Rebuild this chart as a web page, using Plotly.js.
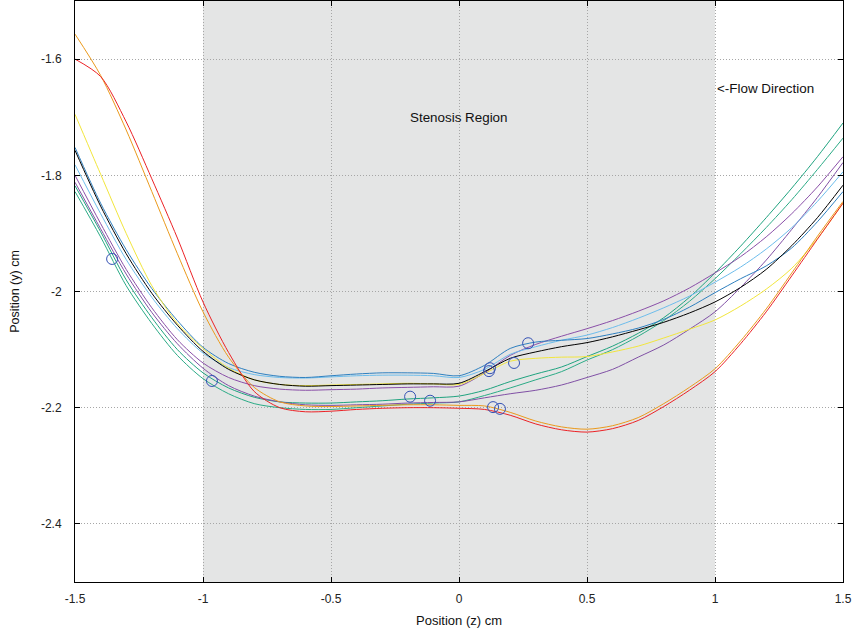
<!DOCTYPE html>
<html>
<head>
<meta charset="utf-8">
<script src="https://cdn.plot.ly/plotly-3.0.1.min.js"></script>
<style>
  html, body { margin: 0; padding: 0; background: #fff; }
  #chart { width: 856px; height: 633px; }
</style>
</head>
<body>
<div id="chart"></div>
<script>
// Axial positions (cm) at which each wall profile is sampled
const zPos = [-1.5, -1.4, -1.3, -1.2, -1.1, -1.0, -0.9, -0.8, -0.7, -0.6, -0.5,
              -0.4, -0.3, -0.2, -0.1, 0.0, 0.1, 0.2, 0.3, 0.4, 0.5,
              0.6, 0.7, 0.8, 0.9, 1.0, 1.1, 1.2, 1.3, 1.4, 1.5];

// Wall position (y, cm) for each profile
const yGreen1 = [-1.818, -1.897, -1.980, -2.045, -2.100, -2.140, -2.166, -2.182, -2.190, -2.192, -2.192,
                 -2.190, -2.188, -2.185, -2.183, -2.180, -2.170, -2.155, -2.142, -2.130, -2.112,
                 -2.094, -2.072, -2.045, -2.010, -1.968, -1.922, -1.873, -1.822, -1.768, -1.710];
const yGreen2 = [-1.828, -1.906, -1.990, -2.055, -2.110, -2.150, -2.176, -2.193, -2.200, -2.203, -2.203,
                 -2.200, -2.197, -2.194, -2.192, -2.190, -2.179, -2.166, -2.152, -2.138, -2.118,
                 -2.100, -2.077, -2.050, -2.017, -1.978, -1.935, -1.890, -1.842, -1.790, -1.736];
const yPurple1 = [-1.800, -1.883, -1.962, -2.028, -2.083, -2.123, -2.148, -2.162, -2.168, -2.170, -2.169,
                  -2.168, -2.166, -2.165, -2.164, -2.163, -2.140, -2.110, -2.091, -2.077, -2.064,
                  -2.050, -2.034, -2.016, -1.994, -1.968, -1.940, -1.906, -1.866, -1.820, -1.768];
const yPurple2 = [-1.812, -1.892, -1.970, -2.036, -2.090, -2.132, -2.162, -2.180, -2.190, -2.195, -2.196,
                  -2.195, -2.194, -2.192, -2.191, -2.190, -2.183, -2.176, -2.170, -2.161, -2.148,
                  -2.134, -2.113, -2.092, -2.065, -2.035, -1.993, -1.946, -1.893, -1.838, -1.778];
const yLightBlue = [-1.782, -1.866, -1.945, -2.010, -2.064, -2.106, -2.131, -2.143, -2.148, -2.149, -2.147,
                    -2.145, -2.144, -2.144, -2.145, -2.148, -2.134, -2.108, -2.095, -2.084, -2.075,
                    -2.062, -2.046, -2.028, -2.008, -1.984, -1.958, -1.927, -1.890, -1.845, -1.794];
const yBlue = [-1.752, -1.848, -1.928, -1.995, -2.050, -2.096, -2.124, -2.139, -2.146, -2.148, -2.145,
               -2.142, -2.140, -2.140, -2.141, -2.145, -2.127, -2.098, -2.087, -2.084, -2.081,
               -2.073, -2.063, -2.048, -2.027, -2.002, -1.978, -1.956, -1.925, -1.880, -1.828];
const yYellow = [-1.695, -1.798, -1.900, -1.990, -2.055, -2.098, -2.132, -2.152, -2.160, -2.162, -2.161,
                 -2.160, -2.159, -2.158, -2.159, -2.160, -2.141, -2.120, -2.115, -2.113, -2.112,
                 -2.104, -2.094, -2.080, -2.065, -2.049, -2.025, -1.996, -1.960, -1.909, -1.848];
const yBlack = [-1.757, -1.853, -1.935, -2.003, -2.058, -2.103, -2.134, -2.152, -2.160, -2.163, -2.162,
                -2.161, -2.160, -2.159, -2.159, -2.158, -2.138, -2.115, -2.104, -2.095, -2.088,
                -2.078, -2.066, -2.053, -2.037, -2.018, -1.993, -1.962, -1.921, -1.873, -1.817];
const yOrange = [-1.557, -1.628, -1.722, -1.828, -1.935, -2.035, -2.113, -2.165, -2.190, -2.197, -2.198,
                 -2.197, -2.196, -2.195, -2.195, -2.196, -2.197, -2.208, -2.223, -2.233, -2.237,
                 -2.231, -2.217, -2.193, -2.165, -2.133, -2.085, -2.030, -1.968, -1.905, -1.845];
const yRed = [-1.600, -1.630, -1.708, -1.806, -1.908, -2.018, -2.105, -2.172, -2.200, -2.207, -2.206,
              -2.203, -2.201, -2.200, -2.200, -2.201, -2.203, -2.213, -2.228, -2.238, -2.242,
              -2.236, -2.222, -2.198, -2.170, -2.138, -2.090, -2.035, -1.973, -1.910, -1.848];

// Measured wall points
const ptZ = [-1.355, -0.965, -0.191, -0.113, 0.117, 0.121, 0.215, 0.270, 0.133, 0.160];
const ptY = [-1.944, -2.154, -2.181, -2.188, -2.137, -2.132, -2.123, -2.089, -2.199, -2.202];

// Axis ticks
const xTickVals = [-1.5, -1, -0.5, 0, 0.5, 1, 1.5];
const xTickText = ['-1.5', '-1', '-0.5', '0', '0.5', '1', '1.5'];
const yTickVals = [-2.4, -2.2, -2, -1.8, -1.6];
const yTickText = ['-2.4', '-2.2', '-2', '-1.8', '-1.6'];

const profiles = [
  { y: yGreen1, color: '#1fa37f' },
  { y: yGreen2, color: '#2bab86' },
  { y: yPurple1, color: '#8a4fa8' },
  { y: yPurple2, color: '#8050a5' },
  { y: yLightBlue, color: '#6dbdec' },
  { y: yBlue, color: '#2f80c0' },
  { y: yYellow, color: '#f2e63c' },
  { y: yBlack, color: '#000000' },
  { y: yOrange, color: '#eb9a1c' },
  { y: yRed, color: '#ec2226' }
];

const traces = profiles.map(p => ({
  x: zPos, y: p.y, type: 'scatter', mode: 'lines',
  line: { color: p.color, width: 1, shape: 'spline', smoothing: 0.8 },
  hoverinfo: 'skip'
}));

traces.push({
  x: ptZ, y: ptY, type: 'scatter', mode: 'markers',
  marker: { symbol: 'circle-open', size: 11, color: '#3552b5', line: { width: 1, color: '#3552b5' } },
  hoverinfo: 'skip'
});

const fontFam = 'Liberation Sans, Arial, sans-serif';
const axisCommon = {
  ticks: 'inside', ticklen: 5, tickwidth: 1, tickcolor: '#000',
  showline: true, linecolor: '#000', linewidth: 1, mirror: 'ticks',
  showgrid: true, gridcolor: '#a6a6a6', gridwidth: 1, griddash: '1px,2px',
  zeroline: false, fixedrange: true,
  tickfont: { family: fontFam, size: 12, color: '#222' }
};

const layout = {
  width: 856, height: 633,
  margin: { l: 75, r: 13, t: 1, b: 51, pad: 0 },
  paper_bgcolor: '#ffffff', plot_bgcolor: '#ffffff',
  showlegend: false,
  xaxis: Object.assign({}, axisCommon, {
    range: [-1.5, 1.5], tickmode: 'array', tickvals: xTickVals, ticktext: xTickText,
    ticklabelstandoff: 6,
    title: { text: 'Position (z) cm', font: { family: fontFam, size: 13, color: '#111' }, standoff: 10 }
  }),
  yaxis: Object.assign({}, axisCommon, {
    range: [-2.5, -1.5], tickmode: 'array', tickvals: yTickVals, ticktext: yTickText,
    ticklabelstandoff: 10,
    title: { text: 'Position (y) cm', font: { family: fontFam, size: 12.5, color: '#111' }, standoff: 18 }
  }),
  shapes: [{
    type: 'rect', xref: 'x', yref: 'paper', x0: -1, x1: 1, y0: 0, y1: 1,
    fillcolor: '#e4e5e5', line: { width: 0 }, layer: 'below'
  }],
  annotations: [
    { x: -0.2, y: -1.7, xref: 'x', yref: 'y', text: 'Stenosis Region', showarrow: false,
      xanchor: 'left', yanchor: 'middle', font: { family: fontFam, size: 13.4, color: '#111' } },
    { x: 1.0, y: -1.651, xref: 'x', yref: 'y', text: '&lt;-Flow Direction', showarrow: false,
      xanchor: 'left', yanchor: 'middle', font: { family: fontFam, size: 13.4, color: '#111' } }
  ]
};

Plotly.newPlot('chart', traces, layout, { displayModeBar: false, staticPlot: true });
</script>
</body>
</html>
